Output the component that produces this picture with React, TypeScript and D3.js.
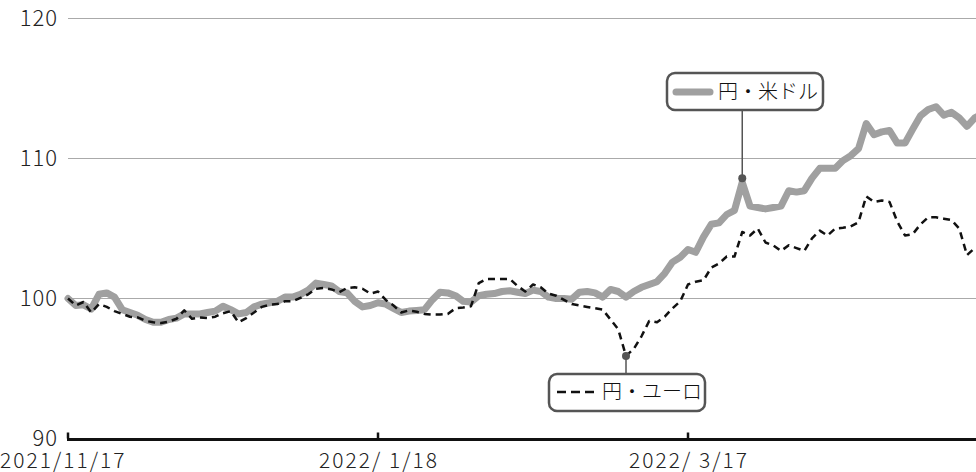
import React from 'react'
import { scaleLinear, line } from 'd3'

// 営業日ごとの指数（2021/11/17 = 100）
const usdJpy = [
  100.0, 99.5, 99.55, 99.25, 100.3, 100.4, 100.1, 99.2, 99.0, 98.8,
  98.5, 98.3, 98.3, 98.5, 98.6, 98.9, 98.9, 98.9, 99.0, 99.1,
  99.45, 99.2, 98.9, 99.0, 99.4, 99.6, 99.7, 99.8, 100.1, 100.1,
  100.3, 100.6, 101.1, 101.0, 100.9, 100.5, 100.4, 99.8, 99.4, 99.5,
  99.7, 99.6, 99.3, 99.0, 99.1, 99.15, 99.2, 99.9, 100.45, 100.4,
  100.2, 99.8, 99.75, 100.2, 100.3, 100.35, 100.5, 100.55, 100.45, 100.35,
  100.6, 100.5, 100.1, 100.0, 100.0, 99.95, 100.45, 100.5, 100.4, 100.1,
  100.65, 100.5, 100.1, 100.5, 100.8, 101.0, 101.2, 101.8, 102.6, 102.95,
  103.5, 103.3, 104.4, 105.3, 105.4, 106.0, 106.3, 108.3, 106.6, 106.5,
  106.4, 106.5, 106.6, 107.7, 107.6, 107.7, 108.6, 109.3, 109.3, 109.3,
  109.85, 110.2, 110.7, 112.5, 111.7, 111.9, 112.0, 111.1, 111.1, 112.1,
  113.05, 113.5, 113.7, 113.1, 113.3, 112.9, 112.3, 112.9, 113.2,
]

const eurJpy = [
  100.0, 99.5, 99.75, 99.0, 99.6, 99.4, 99.1, 98.9, 98.7, 98.65,
  98.4, 98.3, 98.25, 98.35, 98.55, 99.15, 98.55, 98.65, 98.6, 98.7,
  98.95, 99.1, 98.3, 98.6, 99.0, 99.4, 99.55, 99.6, 99.8, 99.8,
  100.05, 100.3, 100.7, 100.75, 100.65, 100.45, 100.75, 100.8, 100.7, 100.35,
  100.5, 99.9, 99.5, 99.0, 99.15, 99.05, 98.9, 98.85, 98.85, 98.9,
  99.3, 99.35, 99.45, 101.1, 101.4, 101.4, 101.4, 101.4, 100.9, 100.5,
  101.0, 100.8, 100.35, 100.2, 99.9, 99.6, 99.5, 99.4, 99.3, 99.2,
  98.5, 97.8, 95.9, 96.4, 97.3, 98.4, 98.3, 98.7, 99.3, 99.8,
  101.0, 101.2, 101.3, 102.2, 102.5, 103.0, 103.0, 104.75, 104.5, 105.0,
  104.0, 103.8, 103.4, 103.8, 103.6, 103.4, 104.3, 104.85, 104.5, 105.0,
  105.05, 105.15, 105.45, 107.3, 106.9, 107.0, 106.9, 105.5, 104.5, 104.6,
  105.3, 105.8, 105.8, 105.7, 105.6, 105.0, 103.1, 103.6, 103.8,
]

const yTicks = [90, 100, 110, 120]
const xTickIndex = [0, 40, 80]
const xTickLabels = ['2021/11/17', '2022/ 1/18', '2022/ 3/17']

const usdLabel = '円・米ドル'
const eurLabel = '円・ユーロ'
const usdCallout = 87 // 注記を付ける点
const eurCallout = 72

const W = 976
const H = 472
const FONT = '"Noto Sans CJK JP", "Noto Sans", sans-serif'

const App = () => {
  const x = scaleLinear().domain([0, 40]).range([68, 378])
  const y = scaleLinear().domain([90, 120]).range([438.5, 18.5])

  const path = line<number>()
    .x((d, i) => x(i))
    .y((d) => y(d))

  const usdX = x(usdCallout)
  const usdY = y(usdJpy[usdCallout]) - 4
  const eurX = x(eurCallout)
  const eurY = y(eurJpy[eurCallout])

  return (
    <svg width={W} height={H} style={{ position: 'absolute', left: 0, top: 0, display: 'block' }}
      fontFamily={FONT}>
      {/* 目盛線と縦軸ラベル */}
      {yTicks.map((t) => (
        <g key={t}>
          {t !== 90 && (
            <line x1={68} x2={W} y1={y(t)} y2={y(t)} stroke="#aaa" strokeWidth={1} />
          )}
          <text x={58} y={y(t)} dy="0.36em" textAnchor="end" fontSize={22} fontWeight={300}
            letterSpacing={1} fill="#222">
            {t}
          </text>
        </g>
      ))}

      <path d={path(usdJpy) ?? ''} fill="none" stroke="#a0a0a0" strokeWidth={7}
        strokeLinejoin="round" strokeLinecap="round" />
      <path d={path(eurJpy) ?? ''} fill="none" stroke="#111" strokeWidth={2.5}
        strokeDasharray="7 5" strokeLinejoin="round" />

      {/* 横軸 */}
      <line x1={67} x2={W} y1={y(90) + 1} y2={y(90) + 1} stroke="#111" strokeWidth={3} />
      {xTickIndex.map((idx, i) => (
        <g key={idx}>
          <line x1={x(idx)} x2={x(idx)} y1={y(90) - 6} y2={y(90)} stroke="#111" strokeWidth={2.5} />
          <text x={i === 0 ? 0 : x(idx) + 1} y={468} textAnchor={i === 0 ? 'start' : 'middle'}
            fontSize={21} fontWeight={300} letterSpacing={2} fill="#222" style={{ whiteSpace: 'pre' }}>
            {xTickLabels[i]}
          </text>
        </g>
      ))}

      {/* 注記: 円・米ドル */}
      <line x1={usdX} x2={usdX} y1={110} y2={usdY} stroke="#555" strokeWidth={1.5} />
      <circle cx={usdX} cy={usdY} r={4} fill="#555" />
      <rect x={667} y={73} width={156} height={37} rx={8} fill="#fff" stroke="#555" strokeWidth={2.5} />
      <line x1={676} x2={710} y1={92} y2={92} stroke="#a0a0a0" strokeWidth={7} strokeLinecap="round" />
      <text x={718} y={92} dy="0.36em" fontSize={20} fontWeight={300} fill="#111">{usdLabel}</text>

      {/* 注記: 円・ユーロ */}
      <line x1={eurX} x2={eurX} y1={eurY} y2={374} stroke="#555" strokeWidth={1.5} />
      <circle cx={eurX} cy={eurY} r={4} fill="#555" />
      <rect x={549} y={374} width={156} height={37} rx={8} fill="#fff" stroke="#555" strokeWidth={2.5} />
      <line x1={557} x2={598} y1={392} y2={392} stroke="#111" strokeWidth={2.5} strokeDasharray="9 5" />
      <text x={602} y={392} dy="0.36em" fontSize={20} fontWeight={300} fill="#111">{eurLabel}</text>
    </svg>
  )
}

export default App
